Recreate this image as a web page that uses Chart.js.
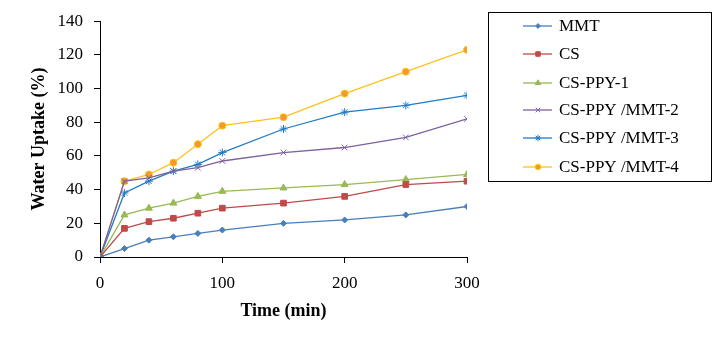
<!DOCTYPE html>
<html>
<head>
<meta charset="utf-8">
<script src="https://cdn.jsdelivr.net/npm/chart.js@4/dist/chart.umd.min.js"></script>
<style>
  body { margin: 0; background: #fff; }
  #wrap { width: 718px; height: 340px; }
</style>
</head>
<body>
<div id="wrap"><canvas id="c"></canvas></div>
<script>
// time points (min)
const times = [0, 20, 40, 60, 80, 100, 150, 200, 250, 300];

const mmt     = [0, 5, 10, 12, 14, 16, 20, 22, 25, 30];
const cs      = [0, 17, 21, 23, 26, 29, 32, 36, 43, 45];
const csPpy1  = [0, 25, 29, 32, 36, 39, 41, 43, 46, 49];
const csMmt2  = [0, 45, 47, 51, 53, 57, 62, 65, 71, 82];
const csMmt3  = [0, 38, 45, 51, 55, 62, 76, 86, 90, 96];
const csMmt4  = [0, 45, 49, 56, 67, 78, 83, 97, 110, 123];

const names = ['MMT', 'CS', 'CS-PPY-1', 'CS-PPY /MMT-2', 'CS-PPY /MMT-3', 'CS-PPY /MMT-4'];
const xTicks = [0, 100, 200, 300];

const serif = "'Liberation Serif', 'Times New Roman', serif";

function pts(ys) {
  return ys.map((y, i) => ({ x: times[i], y: y }));
}

function ds(label, ys, line, fill, border, style, r) {
  return {
    label: label,
    data: pts(ys),
    borderColor: line,
    borderWidth: 1.3,
    pointStyle: style,
    pointRadius: r,
    pointBackgroundColor: fill,
    pointBorderColor: border,
    pointBorderWidth: 1,
    tension: 0
  };
}

const datasets = [
  ds(names[0], mmt, '#4A7EBB', '#4A7EBB', '#4A7EBB', 'rectRot', 3),
  ds(names[1], cs, '#BE4B48', '#BE4B48', '#BE4B48', 'rect', 4),
  ds(names[2], csPpy1, '#98B954', '#98B954', '#98B954', 'triangle', 4),
  ds(names[3], csMmt2, '#7D60A0', '#7D60A0', '#7D60A0', 'crossRot', 4),
  ds(names[4], csMmt3, '#1F7CC8', '#1F7CC8', '#1F7CC8', 'star', 4),
  ds(names[5], csMmt4, '#FFC21A', '#F39A2A', '#FFC21A', 'circle', 3.5)
];

// legend in a framed box on the right
const boxLegend = {
  id: 'boxLegend',
  afterDraw(chart) {
    const ctx = chart.ctx;
    ctx.save();
    ctx.strokeStyle = '#000';
    ctx.lineWidth = 1;
    ctx.strokeRect(488.5, 12.5, 223, 169);
    ctx.font = '17px ' + serif;
    ctx.textBaseline = 'middle';
    ctx.fillStyle = '#000';
    const rows = [26, 54, 83, 110, 138, 167];
    chart.data.datasets.forEach((d, i) => {
      const y = rows[i];
      ctx.strokeStyle = d.borderColor;
      ctx.lineWidth = 1.3;
      ctx.beginPath();
      ctx.moveTo(523, y);
      ctx.lineTo(552, y);
      ctx.stroke();
      ctx.fillStyle = d.pointBackgroundColor;
      ctx.strokeStyle = d.pointBorderColor;
      ctx.lineWidth = 1;
      Chart.helpers.drawPoint(ctx, { pointStyle: d.pointStyle, radius: d.pointRadius * 0.8, borderWidth: 1 }, 538, y);
      ctx.fillStyle = '#000';
      ctx.fillText(d.label, 559, y + 1);
    });
    ctx.restore();
  }
};

new Chart(document.getElementById('c'), {
  type: 'line',
  data: { datasets: datasets },
  options: {
    responsive: true,
    maintainAspectRatio: false,
    animation: false,
    layout: { padding: { top: 12, right: 251, left: 0, bottom: 14 } },
    plugins: { legend: { display: false }, tooltip: { enabled: false } },
    scales: {
      x: {
        type: 'linear',
        min: 0,
        max: 300,
        afterBuildTicks(scale) { scale.ticks = xTicks.map(v => ({ value: v })); },
        afterFit(scale) { scale.height = 69; },
        border: { color: '#000', width: 1 },
        grid: { drawOnChartArea: false, drawTicks: true, tickLength: 6, color: '#000' },
        ticks: { color: '#000', font: { family: serif, size: 17 }, padding: 10, maxRotation: 0 },
        title: { display: true, text: 'Time (min)', color: '#000', font: { family: serif, size: 18, weight: 'bold' }, padding: { top: 6 } }
      },
      y: {
        min: 0,
        max: 140,
        afterFit(scale) { scale.width = 100; },
        border: { color: '#000', width: 1 },
        grid: { drawOnChartArea: false, drawTicks: true, tickLength: 6, color: '#000' },
        ticks: { stepSize: 20, color: '#000', font: { family: serif, size: 17 }, padding: 11 },
        title: { display: true, text: 'Water Uptake (%)', color: '#000', font: { family: serif, size: 18, weight: 'bold' }, padding: { top: 29 } }
      }
    }
  },
  plugins: [boxLegend]
});
</script>
</body>
</html>
